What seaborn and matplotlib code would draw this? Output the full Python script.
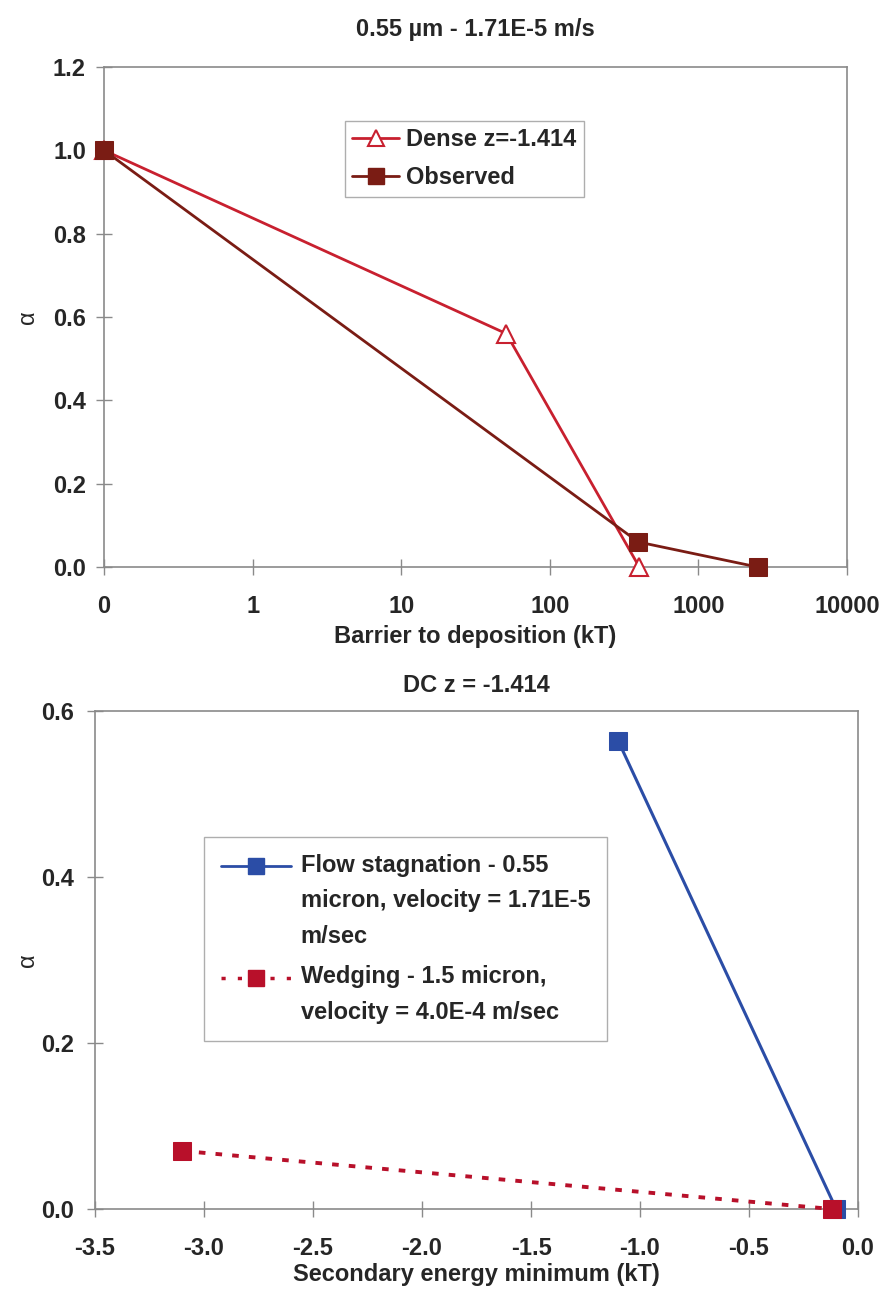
import matplotlib
matplotlib.use("Agg")
import matplotlib.pyplot as plt
import seaborn as sns
import pandas as pd
import numpy as np
from matplotlib.lines import Line2D

# ---- data: top panel ----
dense_x = [0.1, 51, 400]
dense_y = [1.0, 0.56, 0.0]
obs_x = [0.1, 394, 2500]
obs_y = [1.0, 0.06, 0.0]
top_xticks = [0.1, 1, 10, 100, 1000, 10000]
top_xticklabels = ["0", "1", "10", "100", "1000", "10000"]
top_yticks = [0.0, 0.2, 0.4, 0.6, 0.8, 1.0, 1.2]

# ---- data: bottom panel ----
flow_x = [-1.1, -0.1]
flow_y = [0.564, 0.0]
wedge_x = [-3.1, -0.12]
wedge_y = [0.07, 0.0]
bot_xticks = [-3.5, -3.0, -2.5, -2.0, -1.5, -1.0, -0.5, 0.0]
bot_yticks = [0.0, 0.2, 0.4, 0.6]

sns.set_style("white")
plt.rcParams['font.family'] = ['Liberation Sans', 'DejaVu Sans']

FS = 17
C_DENSE = "#C8202F"
C_OBS = "#7A1C14"
C_FLOW = "#2B4DA6"
C_WEDGE = "#B8102A"
SPINE = "#8A8A8A"

fig = plt.figure(figsize=(8.81, 12.89), dpi=100)
W, H = 881, 1289

def axes_px(l, r, t, b):
    return fig.add_axes([l / W, 1 - b / H, (r - l) / W, (b - t) / H])

ax1 = axes_px(104, 847, 67, 567)
ax2 = axes_px(95, 858, 711, 1209)

MS = 13

df_dense = pd.DataFrame({"x": dense_x, "y": dense_y})
df_obs = pd.DataFrame({"x": obs_x, "y": obs_y})
sns.lineplot(data=df_dense, x="x", y="y", ax=ax1, color=C_DENSE, lw=2,
             marker="^", markersize=MS, markerfacecolor="white",
             markeredgecolor=C_DENSE, markeredgewidth=1.5, zorder=3, sort=False,
             clip_on=False)
sns.lineplot(data=df_obs, x="x", y="y", ax=ax1, color=C_OBS, lw=2,
             marker="s", markersize=MS, markerfacecolor=C_OBS,
             markeredgecolor=C_OBS, zorder=4, sort=False, clip_on=False)
ax1.set_xscale("log")
ax1.set_xlim(0.1, 10000)
ax1.set_ylim(0, 1.2)
ax1.set_xticks(top_xticks)
ax1.set_xticklabels(top_xticklabels)
ax1.xaxis.set_minor_locator(matplotlib.ticker.NullLocator())
ax1.set_yticks(top_yticks)
ax1.set_yticklabels([f"{v:.1f}" for v in top_yticks])
ax1.set_title("0.55 \u00b5m - 1.71E-5 m/s", fontsize=FS, fontweight="bold", pad=22)
ax1.set_xlabel("Barrier to deposition (kT)", fontsize=FS, fontweight="bold", labelpad=5)
ax1.set_ylabel("\u03b1", fontsize=FS)
ax1.yaxis.set_label_coords((39 - 104) / 743, 0.5)

h1 = [Line2D([], [], color=C_DENSE, lw=2, marker="^", markersize=11,
             markerfacecolor="white", markeredgecolor=C_DENSE, markeredgewidth=1.5),
      Line2D([], [], color=C_OBS, lw=2, marker="s", markersize=11,
             markerfacecolor=C_OBS, markeredgecolor=C_OBS)]
leg1 = ax1.legend(h1, ["Dense z=-1.414", "Observed"], loc="upper left",
                  bbox_to_anchor=((345 - 104) / 743, (567 - 121) / 500),
                  prop={"size": FS, "weight": "bold"}, frameon=True, fancybox=False,
                  edgecolor="#9A9A9A", handlelength=2.0, borderpad=0.3,
                  labelspacing=0.65, handletextpad=0.3, borderaxespad=0)
leg1.get_frame().set_linewidth(1.0)

df_flow = pd.DataFrame({"x": flow_x, "y": flow_y})
df_wedge = pd.DataFrame({"x": wedge_x, "y": wedge_y})
sns.lineplot(data=df_flow, x="x", y="y", ax=ax2, color=C_FLOW, lw=2.2,
             marker="s", markersize=MS, markerfacecolor=C_FLOW,
             markeredgecolor=C_FLOW, zorder=3, sort=False, clip_on=False)
sns.lineplot(data=df_wedge, x="x", y="y", ax=ax2, color=C_WEDGE, lw=2.8,
             linestyle=(0, (1.7, 2.6)), marker="s", markersize=MS,
             markerfacecolor=C_WEDGE, markeredgecolor=C_WEDGE, zorder=4, sort=False,
             clip_on=False)
ax2.set_xlim(-3.5, 0.0)
ax2.set_ylim(0, 0.6)
ax2.set_xticks(bot_xticks)
ax2.set_xticklabels([f"{v:.1f}" for v in bot_xticks])
ax2.set_yticks(bot_yticks)
ax2.set_yticklabels([f"{v:.1f}" for v in bot_yticks])
ax2.set_title("DC z = -1.414", fontsize=FS, fontweight="bold", pad=14)
ax2.set_xlabel("Secondary energy minimum (kT)", fontsize=FS, fontweight="bold", labelpad=2)
ax2.set_ylabel("\u03b1", fontsize=FS)
ax2.yaxis.set_label_coords((39 - 95) / 763, 0.5)

h2 = [Line2D([], [], color=C_FLOW, lw=2, marker="s", markersize=11,
             markerfacecolor=C_FLOW, markeredgecolor=C_FLOW),
      Line2D([], [], color=C_WEDGE, lw=2.5, linestyle=(0, (1.2, 3.5)), marker="s",
             markersize=11, markerfacecolor=C_WEDGE, markeredgecolor=C_WEDGE)]
labels2 = ["Flow stagnation - 0.55\nmicron, velocity = 1.71E-5\nm/sec",
           "Wedging - 1.5 micron,\nvelocity = 4.0E-4 m/sec"]
leg2 = ax2.legend(h2, labels2, loc="upper left",
                  bbox_to_anchor=((204 - 95) / 763, (1209 - 837) / 498),
                  prop={"size": FS, "weight": "bold"}, frameon=True, fancybox=False,
                  edgecolor="#9A9A9A", handlelength=3.0, borderpad=0.7,
                  labelspacing=0.75, handletextpad=0.4, borderaxespad=0)
leg2.get_frame().set_linewidth(1.0)
LINE_PX = 35.0
for t in leg2.get_texts():
    t.set_linespacing(1.7)
# align each legend handle with the first line of its label
for hdl, lab in zip(leg2.legend_handles, labels2):
    n = lab.count("\n") + 1
    shift_pt = (n - 1) / 2 * LINE_PX * 72 / 100
    yd = np.asarray(hdl.get_ydata(), dtype=float)
    hdl.set_ydata(yd + shift_pt)

for ax in (ax1, ax2):
    for s in ax.spines.values():
        s.set_color(SPINE)
        s.set_linewidth(1.2)
    ax.tick_params(axis="both", which="major", direction="inout", length=12,
                   width=1, color=SPINE, labelsize=FS, bottom=True, left=True)
    ax.tick_params(axis="x", pad=14)
    for lab in ax.get_xticklabels() + ax.get_yticklabels():
        lab.set_fontweight("bold")
    ax.grid(False)
ax1.tick_params(axis="y", pad=7)
ax2.tick_params(axis="y", pad=9)

fig.savefig("out.png", dpi=100, facecolor="white")
